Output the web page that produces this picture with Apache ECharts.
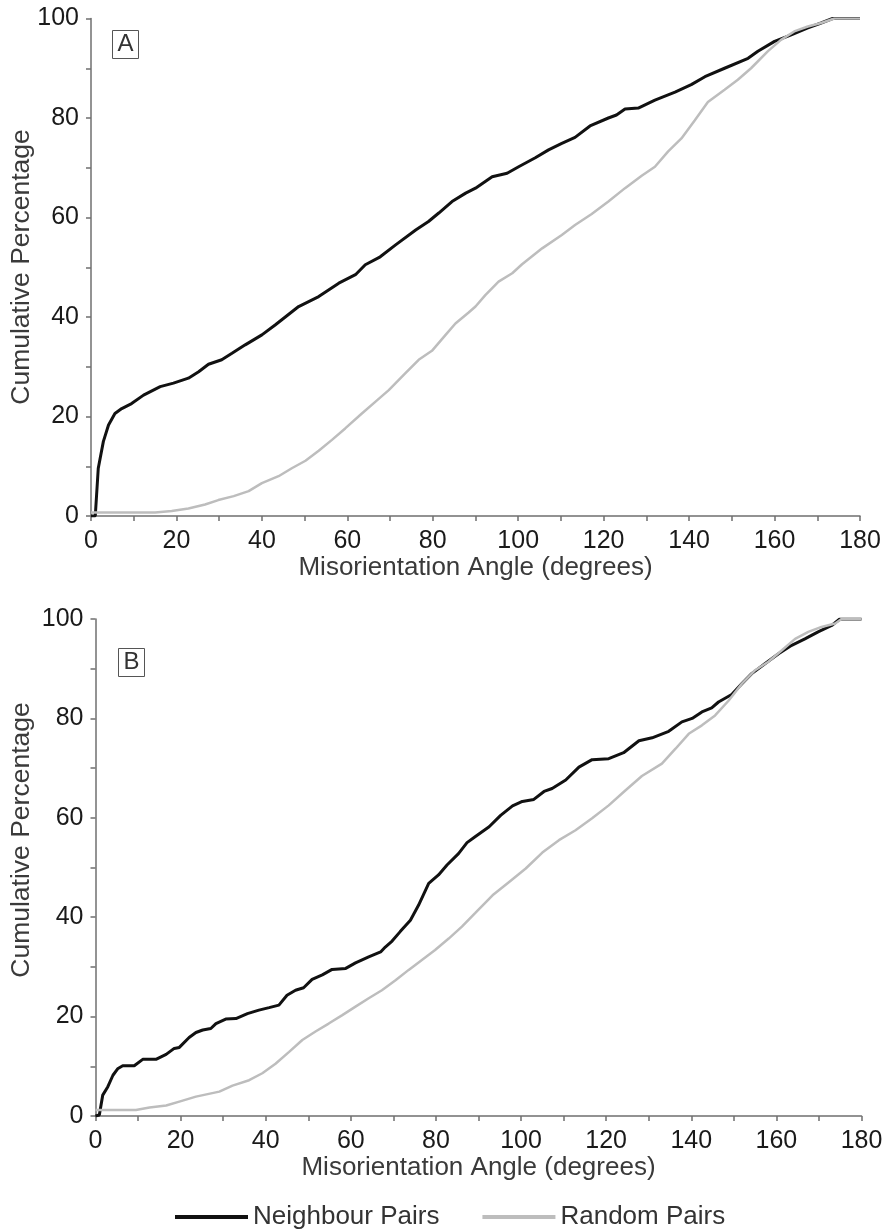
<!DOCTYPE html>
<html>
<head>
<meta charset="utf-8">
<script src="https://cdn.jsdelivr.net/npm/echarts@6/dist/echarts.min.js"></script>
<style>
html,body{margin:0;padding:0;background:#fff;}
#chart{width:889px;height:1231px;}
</style>
</head>
<body>
<div id="chart"></div>
<script>
// ---- Data ----
const seriesNames = ['Neighbour Pairs', 'Random Pairs'];
const panelLabels = ['A', 'B'];
const yTickValues = [0, 20, 40, 60, 80, 100];
const xTickValues = [0, 20, 40, 60, 80, 100, 120, 140, 160, 180];

// Panel A – Neighbour Pairs
const anglesANeighbour = [0,1,1.7,2.9,4.1,5.6,7.2,9.5,12.3,16.2,19.3,22.8,25.2,27.5,30.6,33,36.1,40,43.1,48.6,53.3,58,61.9,64.2,67.7,71.3,76,79,81.4,84.5,87.7,90,93.9,97.4,100.1,104,107.1,110.2,113.3,116.8,121.1,123,125,128.1,132,136.7,140.5,143.7,148.3,153.8,156.1,160,163.9,167.8,170.9,173.6,180];
const valuesANeighbour = [0,0,9.6,15,18.3,20.6,21.6,22.6,24.3,26,26.7,27.7,29,30.5,31.4,32.7,34.4,36.4,38.4,42.1,44.1,46.8,48.5,50.5,52.1,54.5,57.5,59.2,60.9,63.2,64.9,65.9,68.2,68.9,70.2,72,73.6,74.9,76.1,78.4,80,80.6,81.8,82,83.6,85.2,86.7,88.3,90,92,93.4,95.4,96.7,98.1,99.1,100,100];

// Panel A – Random Pairs
const anglesARandom = [0,15,18.9,22.8,26.7,29.8,33.4,36.9,40,43.9,47,50.2,53.3,56.4,59.5,63.4,66.6,69.7,73.6,76.7,79.8,83,85.3,88.4,90,92.3,95.4,98.6,100.9,105.6,110.2,113.3,117.2,121.1,125,128.9,132,135.1,138.2,141.3,144.4,148.3,151.4,154.5,158.4,161.5,164.6,167.8,170.9,174,180];
const valuesARandom = [0.7,0.7,1.0,1.5,2.3,3.2,4.0,5.0,6.6,8.0,9.6,11.1,13.1,15.3,17.6,20.6,23,25.3,28.7,31.4,33.2,36.4,38.7,40.9,42.1,44.4,47.1,48.8,50.6,53.8,56.5,58.5,60.7,63.2,65.9,68.4,70.2,73.3,75.9,79.5,83.2,85.7,87.7,90,93.4,95.7,97.4,98.4,99.1,100,100];

// Panel B – Neighbour Pairs
const anglesBNeighbour = [0,0.9,1.7,2.9,4.1,5.2,6.4,9.1,11.1,14.2,16.6,18.5,19.7,22,23.6,25.2,27.1,28.3,30.6,33,35.7,38.4,40.8,43.1,45,47,48.9,50.9,53.3,55.6,58.8,61.1,64.2,67,68.1,69.7,71.6,74,75.9,78.3,80.6,82.6,85.3,87.3,89.2,92.5,95.2,98,100.3,103,105.4,107.3,110.5,113.6,116.7,120.6,124.1,127.7,130.8,134.7,137.8,140.2,142.5,144.8,146.4,149.5,151.9,154.2,157.3,160.5,163.6,166.7,169.8,173,174.9,180];
const valuesBNeighbour = [0,0.2,4.2,5.9,8.2,9.5,10.1,10.1,11.4,11.4,12.4,13.6,13.8,15.8,16.8,17.3,17.6,18.6,19.5,19.6,20.6,21.3,21.8,22.3,24.3,25.3,25.8,27.5,28.4,29.5,29.7,30.8,32,33,34,35.2,37.1,39.4,42.4,46.8,48.5,50.5,52.8,55,56.2,58.2,60.5,62.4,63.3,63.7,65.3,65.9,67.6,70.2,71.7,71.9,73.1,75.5,76.1,77.4,79.3,80,81.3,82.1,83.3,84.8,87,89,91,93,94.7,96,97.4,98.7,100,100];

// Panel B – Random Pairs
const anglesBRandom = [0,9.5,12.7,16.6,19.7,23.6,29.1,32.2,36.1,39.2,42.3,45.5,48.6,51.7,54.8,58,61.1,64.2,67.3,70.5,73.6,76.7,79.8,83,86.1,89.2,93.3,97.2,101.1,105,108.9,112.8,116.7,120.6,124.5,128.4,133.1,136.3,139.4,142.5,145.6,148.8,151.9,155,158.1,161.3,164.4,167.5,170.6,173.8,175.3,180];
const valuesBRandom = [1.2,1.2,1.7,2.1,2.9,3.9,4.9,6.1,7.2,8.6,10.5,12.9,15.3,17,18.6,20.3,22,23.7,25.3,27.3,29.4,31.4,33.4,35.7,38.1,40.8,44.4,47.1,49.8,53,55.5,57.5,59.9,62.5,65.5,68.4,70.9,73.9,76.9,78.6,80.6,83.6,87,89.7,91.4,93.7,96,97.4,98.4,99.1,100,100];

const xTitle = 'Misorientation Angle (degrees)';
const yTitle = 'Cumulative Percentage';

// ---- Build option ----
const pair = (xs, ys) => xs.map((x, i) => [x, ys[i]]);
const FONT = '"Liberation Sans", Arial, Helvetica, sans-serif';
const AXIS_COLOR = '#6f6f6f';
const NEIGH_COLOR = '#111111';
const RAND_COLOR = '#bdbdbd';

function xAxisFor(gridIndex) {
  return {
    type: 'value', gridIndex, min: 0, max: 180, interval: 10,
    name: xTitle, nameLocation: 'middle', nameGap: 39,
    nameTextStyle: { fontFamily: FONT, fontSize: 26, color: '#3a3a3a' },
    axisLine: { show: true, onZero: false, lineStyle: { color: AXIS_COLOR, width: 1.5 } },
    axisTick: { show: true, inside: false, length: 5, lineStyle: { color: AXIS_COLOR, width: 1.5 } },
    axisLabel: {
      fontFamily: FONT, fontSize: 25, color: '#1a1a1a', margin: 13,
      formatter: v => (xTickValues.indexOf(v) >= 0 ? String(v) : '')
    },
    splitLine: { show: false }
  };
}
function yAxisFor(gridIndex) {
  return {
    type: 'value', gridIndex, min: 0, max: 100, interval: 10,
    axisLine: { show: true, onZero: false, lineStyle: { color: AXIS_COLOR, width: 1.5 } },
    axisTick: { show: true, inside: false, length: 5, lineStyle: { color: AXIS_COLOR, width: 1.5 } },
    axisLabel: {
      fontFamily: FONT, fontSize: 25, color: '#1a1a1a', margin: 12,
      formatter: v => (yTickValues.indexOf(v) >= 0 ? String(v) : '')
    },
    splitLine: { show: false }
  };
}
function lineSeries(name, data, idx, color, width, z) {
  return {
    type: 'line', name, data, xAxisIndex: idx, yAxisIndex: idx,
    showSymbol: false, symbol: 'none', smooth: false, z,
    lineStyle: { color, width }, itemStyle: { color }, animation: false
  };
}
function boxLabel(text, x, y) {
  return {
    type: 'group', left: x, top: y,
    children: [
      { type: 'rect', shape: { x: 0, y: 0, width: 26, height: 28 },
        style: { fill: '#fff', stroke: '#555', lineWidth: 1 } },
      { type: 'text', x: 13, y: 14,
        style: { text, font: '24px ' + FONT, fill: '#333', align: 'center', verticalAlign: 'middle' } }
    ]
  };
}
function yTitleText(cx, cy) {
  return {
    type: 'text', x: cx, y: cy, rotation: Math.PI / 2,
    style: { text: yTitle, font: '26.5px ' + FONT, fill: '#3a3a3a', align: 'center', verticalAlign: 'middle' }
  };
}

const option = {
  backgroundColor: '#ffffff',
  animation: false,
  grid: [
    { left: 91, top: 18.5, width: 769, height: 497.5, containLabel: false },
    { left: 95.5, top: 619, width: 766, height: 497, containLabel: false }
  ],
  xAxis: [xAxisFor(0), xAxisFor(1)],
  yAxis: [yAxisFor(0), yAxisFor(1)],
  legend: {
    data: seriesNames, left: 170, top: 1199, itemWidth: 73, itemHeight: 4, itemGap: 43,
    icon: 'rect',
    textStyle: { fontFamily: FONT, fontSize: 26, color: '#333' }
  },
  graphic: [
    boxLabel(panelLabels[0], 112, 30), boxLabel(panelLabels[1], 118, 648),
    yTitleText(22, 267), yTitleText(22, 840)
  ],
  series: [
    lineSeries(seriesNames[0], pair(anglesANeighbour, valuesANeighbour), 0, NEIGH_COLOR, 3, 2),
    lineSeries(seriesNames[1], pair(anglesARandom, valuesARandom), 0, RAND_COLOR, 2.5, 3),
    lineSeries(seriesNames[0], pair(anglesBNeighbour, valuesBNeighbour), 1, NEIGH_COLOR, 3, 2),
    lineSeries(seriesNames[1], pair(anglesBRandom, valuesBRandom), 1, RAND_COLOR, 2.5, 3)
  ]
};

const chart = echarts.init(document.getElementById('chart'), null, { renderer: 'canvas' });
chart.setOption(option);
</script>
</body>
</html>
